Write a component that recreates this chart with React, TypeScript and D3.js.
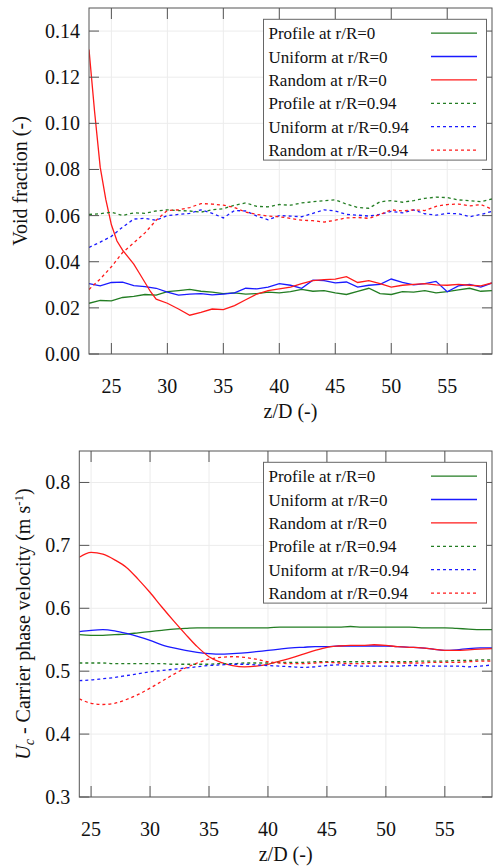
import React from "react";
import * as d3 from "d3";

// ---------- DATA ----------
const legendLabels = [
  "Profile at r/R=0",
  "Uniform at r/R=0",
  "Random at r/R=0",
  "Profile at r/R=0.94",
  "Uniform at r/R=0.94",
  "Random at r/R=0.94",
];
const seriesColors = ["#237d23", "#1a1aff", "#ff1a1a", "#237d23", "#1a1aff", "#ff1a1a"];
const seriesDashed = [false, false, false, true, true, true];

// Top panel: void fraction vs z/D
const zTop = d3.range(23, 60, 1);
const voidProfile0 = [0.022, 0.0232, 0.023, 0.0245, 0.025, 0.0258, 0.0255, 0.027, 0.0275, 0.028, 0.0272, 0.0268, 0.0262, 0.0265, 0.026, 0.0262, 0.0268, 0.0265, 0.027, 0.028, 0.0272, 0.0275, 0.0265, 0.0258, 0.0272, 0.0285, 0.0262, 0.0258, 0.027, 0.0268, 0.0275, 0.0265, 0.027, 0.0278, 0.0285, 0.0272, 0.0275];
const voidUniform0 = [0.0305, 0.0295, 0.031, 0.0312, 0.0296, 0.0292, 0.0285, 0.0268, 0.0255, 0.026, 0.0262, 0.0256, 0.026, 0.0265, 0.0285, 0.0282, 0.029, 0.0305, 0.0298, 0.0285, 0.032, 0.0318, 0.0308, 0.0312, 0.029, 0.0298, 0.0302, 0.0325, 0.031, 0.03, 0.0305, 0.0315, 0.027, 0.0295, 0.0302, 0.029, 0.0308];
const zRandom0Top = [23, 23.5, 24, 24.5, 25, 25.5, 26, 26.5, 27, 27.5, 28, 28.5, 29, 30, 31, 32, 33, 34, 35, 36, 37, 38, 39, 40, 41, 42, 43, 44, 45, 46, 47, 48, 49, 50, 51, 52, 53, 54, 55, 56, 57, 58, 59];
const voidRandom0 = [0.132, 0.105, 0.081, 0.067, 0.056, 0.049, 0.045, 0.042, 0.039, 0.035, 0.031, 0.027, 0.0238, 0.022, 0.0195, 0.0168, 0.018, 0.0195, 0.0192, 0.021, 0.0235, 0.026, 0.0275, 0.0282, 0.029, 0.0305, 0.0318, 0.0322, 0.0325, 0.0335, 0.031, 0.0318, 0.0305, 0.029, 0.0298, 0.0302, 0.0305, 0.03, 0.0298, 0.0302, 0.0298, 0.0295, 0.0308];
const voidProfile94 = [0.0605, 0.0608, 0.0615, 0.06, 0.0612, 0.061, 0.062, 0.0625, 0.0622, 0.062, 0.0615, 0.0625, 0.063, 0.0645, 0.0655, 0.064, 0.0638, 0.0648, 0.0645, 0.0655, 0.066, 0.0665, 0.0668, 0.065, 0.0635, 0.0632, 0.066, 0.0665, 0.0658, 0.0665, 0.0675, 0.068, 0.0678, 0.0668, 0.0665, 0.066, 0.0672];
const voidUniform94 = [0.0462, 0.0485, 0.051, 0.055, 0.0585, 0.0588, 0.058, 0.06, 0.0605, 0.061, 0.0625, 0.061, 0.059, 0.0622, 0.062, 0.0598, 0.0582, 0.06, 0.0598, 0.0595, 0.061, 0.0625, 0.062, 0.0605, 0.0602, 0.0598, 0.0605, 0.0618, 0.0612, 0.0625, 0.0608, 0.0602, 0.061, 0.0608, 0.0595, 0.0605, 0.0618];
const voidRandom94 = [0.028, 0.0325, 0.0378, 0.044, 0.0482, 0.0525, 0.058, 0.0622, 0.0625, 0.0635, 0.0652, 0.065, 0.0645, 0.0635, 0.0615, 0.0605, 0.0598, 0.0595, 0.0588, 0.058, 0.0578, 0.0572, 0.058, 0.059, 0.0592, 0.0588, 0.0605, 0.0625, 0.062, 0.0625, 0.0622, 0.064, 0.0648, 0.065, 0.0642, 0.0648, 0.0628];

// Bottom panel: carrier phase velocity vs z/D
const zBot = d3.range(24, 60, 1);
const velProfile0 = [0.558, 0.557, 0.557, 0.558, 0.559, 0.561, 0.563, 0.565, 0.567, 0.568, 0.569, 0.569, 0.569, 0.569, 0.569, 0.569, 0.569, 0.57, 0.57, 0.57, 0.57, 0.57, 0.57, 0.571, 0.57, 0.57, 0.57, 0.57, 0.57, 0.569, 0.569, 0.569, 0.568, 0.567, 0.566, 0.566];
const velUniform0 = [0.563, 0.565, 0.566, 0.564, 0.56, 0.555, 0.549, 0.542, 0.537, 0.533, 0.53, 0.528, 0.527, 0.528, 0.529, 0.531, 0.533, 0.535, 0.537, 0.538, 0.539, 0.539, 0.54, 0.54, 0.54, 0.54, 0.54, 0.539, 0.538, 0.537, 0.535, 0.533, 0.534, 0.536, 0.537, 0.537];
const velRandom0 = [0.681, 0.689, 0.686, 0.677, 0.665, 0.646, 0.625, 0.602, 0.58, 0.559, 0.539, 0.523, 0.514, 0.509, 0.507, 0.508, 0.511, 0.516, 0.521, 0.527, 0.533, 0.538, 0.54, 0.541, 0.541, 0.542, 0.541, 0.539, 0.538, 0.537, 0.535, 0.533, 0.533, 0.534, 0.535, 0.536];
const velProfile94 = [0.513, 0.513, 0.513, 0.512, 0.512, 0.512, 0.512, 0.512, 0.511, 0.511, 0.511, 0.511, 0.512, 0.512, 0.513, 0.513, 0.513, 0.514, 0.514, 0.514, 0.515, 0.515, 0.515, 0.515, 0.515, 0.515, 0.515, 0.515, 0.515, 0.516, 0.516, 0.516, 0.517, 0.517, 0.518, 0.518];
const velUniform94 = [0.485, 0.486, 0.488, 0.49, 0.493, 0.496, 0.499, 0.501, 0.503, 0.505, 0.507, 0.509, 0.51, 0.511, 0.511, 0.51, 0.509, 0.508, 0.507, 0.506, 0.507, 0.509, 0.51, 0.509, 0.508, 0.508, 0.508, 0.508, 0.509, 0.509, 0.508, 0.508, 0.508, 0.507, 0.508, 0.51];
const velRandom94 = [0.456, 0.449, 0.447, 0.449, 0.455, 0.463, 0.473, 0.484, 0.495, 0.505, 0.513, 0.519, 0.522, 0.523, 0.522, 0.519, 0.515, 0.513, 0.512, 0.512, 0.513, 0.514, 0.513, 0.512, 0.512, 0.513, 0.514, 0.513, 0.513, 0.513, 0.514, 0.514, 0.514, 0.515, 0.516, 0.516];

const xTicks = [25, 30, 35, 40, 45, 50, 55];
const yTicksTop = [0, 0.02, 0.04, 0.06, 0.08, 0.1, 0.12, 0.14];
const yTicksBot = [0.3, 0.4, 0.5, 0.6, 0.7, 0.8];

// ---------- STYLE ----------
const FONT = "'Liberation Serif', 'DejaVu Serif', serif";
const AXIS = "#555";
const GRID = "#ececec";

type Series = { x: number[]; y: number[] };

function Panel(props: {
  id: string;
  left: number; top: number; right: number; bottom: number;
  xDomain: [number, number]; yDomain: [number, number];
  yTicks: number[]; yFmt: string;
  series: Series[];
  curve: any;
  yLabel: React.ReactNode;
  yLabelX: number;
  legendTop: number;
}) {
  const { left, top, right, bottom } = props;
  const x = d3.scaleLinear().domain(props.xDomain).range([left, right]);
  const y = d3.scaleLinear().domain(props.yDomain).range([bottom, top]);
  const fmt = d3.format(props.yFmt);
  const line = d3.line<[number, number]>().x((d) => x(d[0])).y((d) => y(d[1])).curve(props.curve);
  const tickLen = 11;
  const cy = (top + bottom) / 2;
  const legX0 = 263.5, legX1 = 486.5, rowH = 23.4;
  const legTop = props.legendTop;
  return (
    <g>
      <defs>
        <clipPath id={props.id}>
          <rect x={left} y={top} width={right - left} height={bottom - top} />
        </clipPath>
      </defs>
      {/* grid */}
      {xTicks.map((t) => (
        <line key={"gx" + t} x1={x(t)} x2={x(t)} y1={top} y2={bottom} stroke={GRID} strokeWidth={1} />
      ))}
      {props.yTicks.map((t) => (
        <line key={"gy" + t} x1={left} x2={right} y1={y(t)} y2={y(t)} stroke={GRID} strokeWidth={1} />
      ))}
      {/* data */}
      <g clipPath={`url(#${props.id})`}>
        {props.series.map((s, i) => (
          <path
            key={i}
            d={line(s.x.map((v, j) => [v, s.y[j]] as [number, number])) || ""}
            fill="none"
            stroke={seriesColors[i]}
            strokeWidth={1.3}
            strokeDasharray={seriesDashed[i] ? "3,3" : undefined}
          />
        ))}
      </g>
      {/* ticks */}
      {xTicks.map((t) => (
        <g key={"tx" + t}>
          <line x1={x(t)} x2={x(t)} y1={bottom} y2={bottom - tickLen} stroke={AXIS} />
          <line x1={x(t)} x2={x(t)} y1={top} y2={top + tickLen} stroke={AXIS} />
          <text x={x(t)} y={bottom + 38.5} textAnchor="middle" fontFamily={FONT} fontSize={20} fill="#111">
            {t}
          </text>
        </g>
      ))}
      {props.yTicks.map((t) => (
        <g key={"ty" + t}>
          <line x1={left} x2={left + 10} y1={y(t)} y2={y(t)} stroke={AXIS} />
          <line x1={right} x2={right - 10} y1={y(t)} y2={y(t)} stroke={AXIS} />
          <text x={left - 9} y={y(t) + 7} textAnchor="end" fontFamily={FONT} fontSize={20} fill="#111">
            {fmt(t)}
          </text>
        </g>
      ))}
      {/* frame */}
      <rect x={left} y={top} width={right - left} height={bottom - top} fill="none" stroke={AXIS} strokeWidth={1} />
      {/* axis labels */}
      <text x={(left + right) / 2} y={bottom + 64} textAnchor="middle" fontFamily={FONT} fontSize={20} fill="#111">
        z/D (-)
      </text>
      <text
        transform={`translate(${props.yLabelX},${cy}) rotate(-90)`}
        textAnchor="middle"
        fontFamily={FONT}
        fontSize={20}
        fill="#111"
      >
        {props.yLabel}
      </text>
      {/* legend */}
      <rect x={legX0} y={legTop} width={legX1 - legX0} height={rowH * 6 + 0.4} fill="#fff" stroke="#666" strokeWidth={1} />
      {legendLabels.map((lab, i) => {
        const ry = legTop + 13.8 + i * rowH;
        return (
          <g key={"lg" + i}>
            <text x={268.5} y={ry + 6} fontFamily={FONT} fontSize={17} fill="#111">
              {lab}
            </text>
            <line
              x1={431}
              x2={477}
              y1={ry}
              y2={ry}
              stroke={seriesColors[i]}
              strokeWidth={1.3}
              strokeDasharray={seriesDashed[i] ? "3,3" : undefined}
            />
          </g>
        );
      })}
    </g>
  );
}

export default function App() {
  const topSeries: Series[] = [
    { x: zTop, y: voidProfile0 },
    { x: zTop, y: voidUniform0 },
    { x: zRandom0Top, y: voidRandom0 },
    { x: zTop, y: voidProfile94 },
    { x: zTop, y: voidUniform94 },
    { x: zTop, y: voidRandom94 },
  ];
  const botSeries: Series[] = [
    { x: zBot, y: velProfile0 },
    { x: zBot, y: velUniform0 },
    { x: zBot, y: velRandom0 },
    { x: zBot, y: velProfile94 },
    { x: zBot, y: velUniform94 },
    { x: zBot, y: velRandom94 },
  ];
  return (
    <svg
      width={493}
      height={868}
      style={{ position: "absolute", left: 0, top: 0, background: "#fff" }}
    >
      <rect x={0} y={0} width={493} height={868} fill="#fff" />
      <Panel
        id="clipTop"
        left={89}
        top={8}
        right={492}
        bottom={354}
        xDomain={[23, 59]}
        yDomain={[0, 0.15]}
        yTicks={yTicksTop}
        yFmt=".2f"
        series={topSeries}
        curve={d3.curveLinear}
        yLabel={"Void fraction (-)"}
        yLabelX={27}
        legendTop={19.3}
      />
      <Panel
        id="clipBot"
        left={79.3}
        top={451}
        right={492}
        bottom={797}
        xDomain={[24, 59]}
        yDomain={[0.3, 0.85]}
        yTicks={yTicksBot}
        yFmt=".1f"
        series={botSeries}
        curve={d3.curveMonotoneX}
        yLabel={
          <>
            <tspan fontStyle="italic">U</tspan>
            <tspan fontStyle="italic" fontSize={14} dy={4}>c</tspan>
            <tspan dy={-4}> - Carrier phase velocity (m s</tspan>
            <tspan fontSize={13} dy={-7}>-1</tspan>
            <tspan dy={7}>)</tspan>
          </>
        }
        yLabelX={30}
        legendTop={462.3}
      />
    </svg>
  );
}
